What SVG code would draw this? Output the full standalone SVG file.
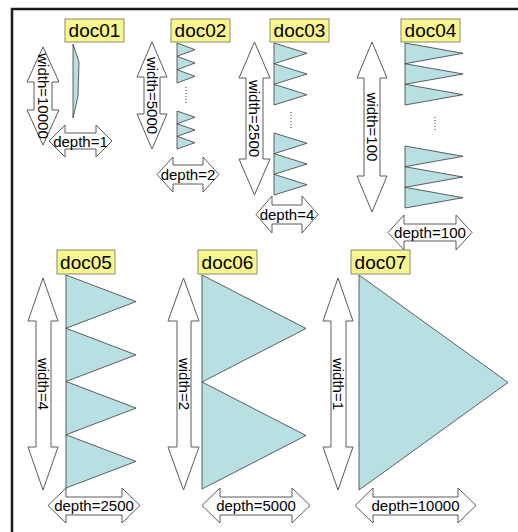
<svg xmlns="http://www.w3.org/2000/svg" width="518" height="532" viewBox="0 0 518 532">
  <style>
    .frame { fill: none; stroke: #1a1a1a; stroke-width: 2.5; }
    .label rect { fill: #f9f58f; stroke: #8a8a6a; stroke-width: 1; }
    .label text { font-family: "Liberation Sans", Arial, sans-serif; font-size: 19px; fill: #000; text-anchor: middle; dominant-baseline: central; }
    .tri { fill: #b8dfe2; stroke: #3a3a3a; stroke-width: 0.8; stroke-linejoin: miter; }
    .arr { fill: #fff; stroke: #5a5a5a; stroke-width: 1; }
    .atext { font-family: "Liberation Sans", Arial, sans-serif; font-size: 15px; fill: #000; text-anchor: middle; dominant-baseline: central; }
    .dots { stroke: #333; stroke-width: 1; stroke-dasharray: 1 2; fill: none; }
  </style>

  <!-- outer frame (top and left edges) -->
  <path class="frame" d="M12,532 L12,9 L518,9"/>

  <g id="doc01">
    <path class="arr" d="M43,47 L59,82 L52,82 L52,110 L59,110 L43,145 L27,110 L34,110 L34,82 L27,82 Z"/>
    <text class="atext" transform="translate(43,96) rotate(90)">width=10000</text>
    <polygon class="tri" points="73,44 79,62 78,96 73,118"/>
    <path class="arr" d="M49,141 L65,125 L65,133 L96,133 L96,125 L112,141 L96,157 L96,149 L65,149 L65,157 Z"/>
    <text class="atext" x="80.5" y="141">depth=1</text>
    <g class="label"><rect x="65" y="19" width="59" height="23"/><text x="94.5" y="30.5">doc01</text></g>
  </g>

  <g id="doc02">
    <path class="arr" d="M152,42 L167,77 L160,77 L160,114 L167,114 L152,149 L137,114 L144,114 L144,77 L137,77 Z"/>
    <text class="atext" transform="translate(152,95.5) rotate(90)">width=5000</text>
    <polygon class="tri" points="177,43 195,49.7 177,56.3 195,63 177,69.7 195,76.3 177,83"/>
    <line class="dots" x1="186" y1="87" x2="186" y2="104"/>
    <polygon class="tri" points="177,111 195,117.3 177,123.7 195,130 177,136.3 195,142.7 177,149"/>
    <path class="arr" d="M157,174.5 L173,157 L173,165 L203,165 L203,157 L219,174.5 L203,192 L203,184 L173,184 L173,192 Z"/>
    <text class="atext" x="188" y="174.5">depth=2</text>
    <g class="label"><rect x="171" y="19" width="59" height="23"/><text x="200.5" y="30.5">doc02</text></g>
  </g>

  <g id="doc03">
    <path class="arr" d="M254.5,42 L270,78 L263,78 L263,159 L270,159 L254.5,195 L239,159 L246,159 L246,78 L239,78 Z"/>
    <text class="atext" transform="translate(254.5,118.5) rotate(90)">width=2500</text>
    <polygon class="tri" points="274,43 307,53.3 274,63.7 307,74 274,84.3 307,94.7 274,105"/>
    <line class="dots" x1="291" y1="112" x2="291" y2="128"/>
    <polygon class="tri" points="274,133 307,143.3 274,153.7 307,164 274,174.3 307,184.7 274,195"/>
    <path class="arr" d="M256,214.5 L272,196 L272,205 L302,205 L302,196 L318,214.5 L302,233 L302,224 L272,224 L272,233 Z"/>
    <text class="atext" x="287" y="214.5">depth=4</text>
    <g class="label"><rect x="270" y="19" width="59" height="23"/><text x="299.5" y="30.5">doc03</text></g>
  </g>

  <g id="doc04">
    <path class="arr" d="M372,42 L387,78 L380,78 L380,176 L387,176 L372,212 L357,176 L364,176 L364,78 L357,78 Z"/>
    <text class="atext" transform="translate(372,127) rotate(90)">width=100</text>
    <polygon class="tri" points="405,43 463,53.3 405,63.7 463,74 405,84.3 463,94.7 405,105"/>
    <line class="dots" x1="435" y1="117" x2="435" y2="131"/>
    <polygon class="tri" points="405,146 463,156.3 405,166.7 463,177 405,187.3 463,197.7 405,208"/>
    <path class="arr" d="M388,232.5 L404,215 L404,224 L456,224 L456,215 L472,232.5 L456,250 L456,241 L404,241 L404,250 Z"/>
    <text class="atext" x="430" y="232.5" font-size="16" textLength="72" lengthAdjust="spacingAndGlyphs">depth=100</text>
    <g class="label"><rect x="401" y="19" width="59" height="23"/><text x="430.5" y="30.5">doc04</text></g>
  </g>

  <g id="doc05">
    <path class="arr" d="M43,278 L58,321 L51,321 L51,447 L58,447 L43,490 L28,447 L36,447 L36,321 L28,321 Z"/>
    <text class="atext" transform="translate(43.5,384) rotate(90)">width=4</text>
    <polygon class="tri" points="66,275 136,301.6 66,328.25 136,354.9 66,381.5 136,408.1 66,434.75 136,461.4 66,488"/>
    <path class="arr" d="M48,505.5 L66,488 L66,497 L122,497 L122,488 L140,505.5 L122,523 L122,515 L66,515 L66,523 Z"/>
    <text class="atext" x="94" y="505.5">depth=2500</text>
    <g class="label"><rect x="57" y="250" width="58" height="24"/><text x="86" y="262">doc05</text></g>
  </g>

  <g id="doc06">
    <path class="arr" d="M183.5,278 L199,321 L191,321 L191,447 L199,447 L183.5,490 L168,447 L177,447 L177,321 L168,321 Z"/>
    <text class="atext" transform="translate(184,384) rotate(90)">width=2</text>
    <polygon class="tri" points="202,275 306,328.5 202,382 306,435.5 202,489"/>
    <path class="arr" d="M202,505.5 L220,488 L220,497 L292,497 L292,488 L310,505.5 L292,523 L292,515 L220,515 L220,523 Z"/>
    <text class="atext" x="256" y="505.5">depth=5000</text>
    <g class="label"><rect x="198" y="250" width="59" height="24"/><text x="227.5" y="262">doc06</text></g>
  </g>

  <g id="doc07">
    <path class="arr" d="M338,278 L353,321 L346,321 L346,447 L353,447 L338,490 L323,447 L331,447 L331,321 L323,321 Z"/>
    <text class="atext" transform="translate(338.5,384) rotate(90)">width=1</text>
    <polygon class="tri" points="359,275 508,382.5 359,490"/>
    <path class="arr" d="M355,505.5 L373,488 L373,497 L458,497 L458,488 L476,505.5 L458,523 L458,515 L373,515 L373,523 Z"/>
    <text class="atext" x="415.5" y="505.5">depth=10000</text>
    <g class="label"><rect x="351" y="250" width="59" height="24"/><text x="380.5" y="262">doc07</text></g>
  </g>

  <!-- no connectors between the document panels -->
  <g id="connectors"/>
</svg>
